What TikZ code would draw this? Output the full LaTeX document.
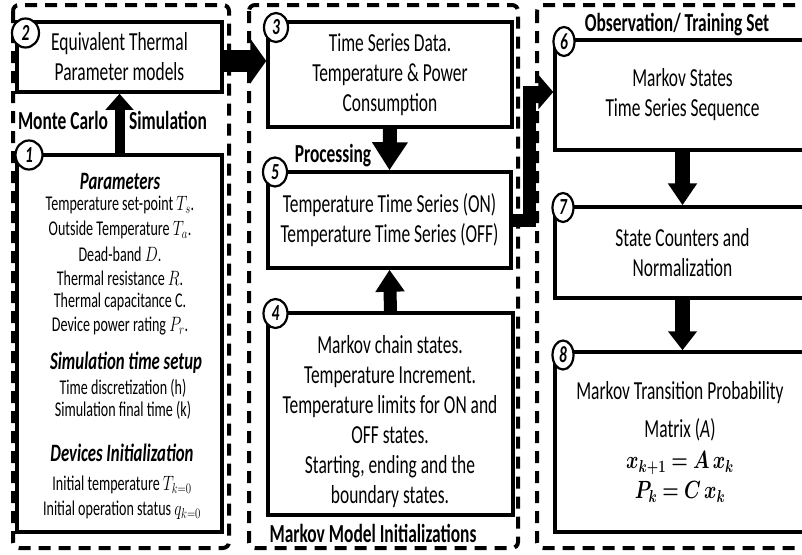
\documentclass[tikz,border=0pt]{standalone}
\usepackage{fontspec}
\setmainfont{Carlito}[FakeStretch=0.67]
\usepackage{amsmath}
\usepackage{bm}
\usepackage{graphicx}
\usetikzlibrary{arrows.meta,shapes.geometric,calc}
\newcommand{\mth}[1]{\scalebox{0.75}[1]{$#1$}}
\newcommand{\bmth}[1]{\scalebox{0.76}[1]{$\bm{#1}$}}
\begin{document}
\begin{tikzpicture}[x=1pt,y=-1pt,
  box/.style={draw,line width=3.5pt,fill=white,inner sep=0pt,align=center,font=\fontsize{26}{30}\selectfont},
  numc/.style={draw,ellipse,line width=2.2pt,fill=white,inner sep=0pt,minimum width=24pt,minimum height=29pt,font=\fontsize{23}{23}\selectfont\bfseries\itshape},
  cont/.style={draw,line width=4pt,dash pattern=on 12pt off 8pt,rounded corners=6pt},
  barrow/.style={line width=13pt,-{Triangle[width=32pt,length=22pt]}},
  lbl/.style={font=\fontsize{26}{30}\selectfont\bfseries,inner sep=0pt},
  txt/.style={font=\fontsize{26}{30}\selectfont,inner sep=0pt,align=center},
  small/.style={font=\fontsize{21}{24}\selectfont,inner sep=0pt},
  headt/.style={font=\fontsize{25}{28}\selectfont\bfseries\itshape,inner sep=0pt}
]
\clip (0,0) rectangle (802,554);
\fill[white] (0,0) rectangle (802,554);

% dashed containers
\draw[cont] (13,5) rectangle (229,548);
\draw[cont] (249,5) rectangle (518,548);
\draw[cont] (537,5) rectangle (830,548);

% boxes
\node[box,minimum width=205pt,minimum height=70pt] (b2) at (119.5,57) {Equivalent Thermal\\Parameter models};
\node[box,minimum width=205pt,minimum height=377pt] (b1) at (119.5,343.5) {};
\node[box,minimum width=244pt,minimum height=105pt] (b3) at (390,74.5) {Time Series Data.\\Temperature \& Power\\Consumption};
\node[box,minimum width=243pt,minimum height=96pt] (b5) at (389.5,220) {Temperature Time Series (ON)\\Temperature Time Series (OFF)};
\node[box,minimum width=245pt,minimum height=202pt] (b4) at (390.5,414) {};
\node[box,minimum width=255pt,minimum height=110pt] (b6) at (682.5,95) {Markov States\\Time Series Sequence};
\node[box,minimum width=255pt,minimum height=91pt] (b7) at (682.5,252.5) {State Counters and\\Normalization};
\node[box,minimum width=255pt,minimum height=180pt] (b8) at (682.5,442) {};

% box 1 text
\node[headt] (p1) at (120,181) {Parameters};
\node[small] (p2) at (120,205) {Temperature set-point \mth{T_s}.};
\node[small] (p3) at (120,230) {Outside Temperature \mth{T_a}.};
\node[small] (p4) at (120,254) {Dead-band \mth{D}.};
\node[small] (p5) at (120,278) {Thermal resistance \mth{R}.};
\node[small] (p6) at (120,302) {Thermal capacitance C.};
\node[small] (p7) at (120,326) {Device power rating \mth{P_r}.};
\node[headt] (s1) at (126,363) {Simulation time setup};
\node[small] (s2) at (123,388) {Time discretization (h)};
\node[small] (s3) at (123,410) {Simulation final time (k)};
\node[headt] (d1) at (122,453) {Devices Initialization};
\node[small] (d2) at (122,485) {Initial temperature \mth{T_{k=0}}};
\node[small] (d3) at (122,510) {Initial operation status \mth{q_{k=0}}};

% box 4 text
\node[txt] (m4) at (390,422) {Markov chain states.\\Temperature Increment.\\Temperature limits for ON and\\OFF states.\\Starting, ending and the\\boundary states.};

% box 8 text
\node[txt] (m8a) at (680,393) {Markov Transition Probability};
\node[txt] (m8b) at (680,430) {Matrix (\textit{A})};
\node[inner sep=0pt,font=\fontsize{27}{30}\selectfont] (m8c) at (680,463) {\bmth{x_{k+1} = A\,x_k}};
\node[inner sep=0pt,font=\fontsize{27}{30}\selectfont] (m8d) at (680,492) {\bmth{P_k = C\,x_k}};

% labels
\node[lbl] (l1) at (63,120) {Monte Carlo};
\node[lbl] (l2) at (168,120) {Simulation};
\node[lbl] (l3) at (333,156) {Processing};
\node[lbl] (l4) at (677,25) {Observation/ Training Set};
\node[lbl] (l5) at (373,533) {Markov Model Initializations};

% arrows
\draw[line width=10pt,-{Triangle[width=27pt,length=16pt]}] (b1.north) -- (b2.south);
\draw[line width=22pt,-{Triangle[width=44pt,length=16pt]}] ([yshift=-4pt]b2.east) -- ([yshift=-4pt]b2.east -| b3.west);
\draw[line width=14pt,-{Triangle[width=34pt,length=28pt]}] (b3.south) -- (b5.north);
\draw[barrow,-{Triangle[width=28pt,length=22pt]}] (b4.north) -- (b5.south);
\coordinate (e1) at (529,92);
\draw[line width=13pt,-{Triangle[width=34pt,length=15pt]}] (b5.east) -| (e1) -- (e1 -| b6.west);
\draw[line width=15pt,-{Triangle[width=28pt,length=22pt]}] (b6.south) -- (b7.north);
\draw[line width=15pt,-{Triangle[width=28pt,length=19pt]}] (b7.south) -- (b8.north);

% number markers
\node[numc,minimum width=27pt] (c2) at (25.5,33) {2};
\node[numc,minimum width=27pt] (c1) at (29,155) {1};
\node[numc] (c3) at (276,27.5) {3};
\node[numc] (c5) at (275,172) {5};
\node[numc] (c4) at (275.5,313.5) {4};
\node[numc,minimum width=21pt] (c6) at (564,41.5) {6};
\node[numc,minimum width=21pt] (c7) at (563,207.5) {7};
\node[numc,minimum width=21pt] (c8) at (563,355) {8};
\end{tikzpicture}
\end{document}
